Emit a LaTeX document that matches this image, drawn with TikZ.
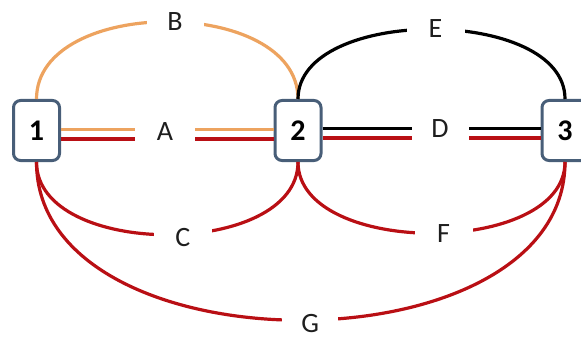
\documentclass[tikz,border=0pt]{standalone}
\usepackage{fontspec}
\setmainfont{Carlito}
\definecolor{niceorange}{RGB}{237, 163, 95}
\definecolor{nicered}{RGB}{185, 15, 20}
\definecolor{boxgray}{RGB}{72, 94, 120}
\definecolor{textgray}{RGB}{30, 30, 30}
\tikzset{
	station/.style = {draw = boxgray, line width = 3pt, rounded corners = 7pt, fill = white, minimum width = 46pt, minimum height = 60pt, inner sep = 0pt, text = black, font = \fontsize{30}{32}\selectfont\bfseries},
	lbl/.style = {fill = white, inner sep = 0pt, minimum height = 22pt, text = textgray, font = \fontsize{28}{30}\selectfont},
	wire/.style = {line width = 3.2pt}
}
\begin{document}
\begin{tikzpicture}[x = 1pt, y = 1pt]
			\useasboundingbox (0,0) rectangle (581,338);
			\node (n1) at (36.5,207.5) [station] {1};
			\node (n2) at (298,207.5) [station] {2};
			\node (n3) at (565,207.5) [station] {3};
			\draw[wire, niceorange] ([yshift = 1pt]n1.east) -- ([yshift = 1pt]n2.west);
			\draw[wire, nicered] ([yshift = -8.5pt]n1.east) -- ([yshift = -8.5pt]n2.west);
			\draw[wire, black] ([yshift = 2pt]n2.east) -- ([yshift = 2pt]n3.west);
			\draw[wire, nicered] ([yshift = -7.5pt]n2.east) -- ([yshift = -7.5pt]n3.west);
			\node (A) at (165,206) [lbl, minimum width = 60pt] {A};
			\node (D) at (440,209) [lbl, minimum width = 57pt] {D};
			\draw[wire, niceorange] (n1.north) .. controls +(0,103) and +(0,103) .. node[lbl, pos = 0.52, minimum width = 57pt] (B) {B} (n2.north);
			\draw[wire, black] (n2.north) .. controls +(0,93) and +(0,93) .. node[lbl, pos = 0.51, minimum width = 58pt, yshift = 1pt] (E) {E} (n3.north);
			\draw[wire, nicered] (n1.south) .. controls +(0,-97) and +(0,-97) .. node[lbl, pos = 0.54, minimum width = 58pt, yshift = -3pt] (C) {C} (n2.south);
			\draw[wire, nicered] (n2.south) .. controls +(0,-95) and +(0,-95) .. node[lbl, pos = 0.53, minimum width = 58pt, yshift = -1pt] (F) {F} (n3.south);
			\draw[wire, nicered] (n1.south) .. controls +(0,-211) and +(0,-211) .. node[lbl, pos = 0.512, minimum width = 56pt, yshift = -3pt] (G) {G} (n3.south);
\end{tikzpicture}
\end{document}
